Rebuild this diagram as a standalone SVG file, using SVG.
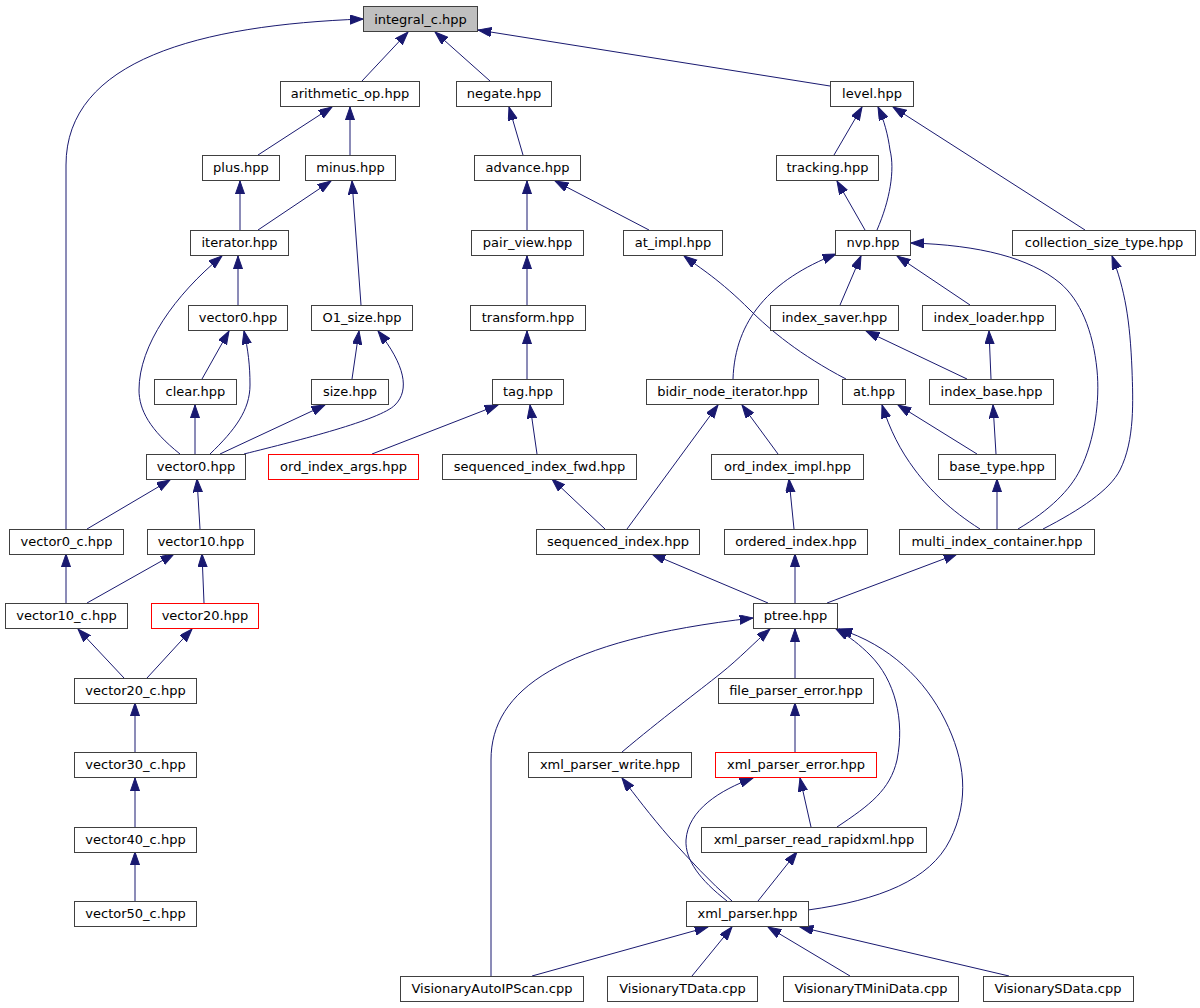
<svg xmlns="http://www.w3.org/2000/svg" width="1200" height="1008" viewBox="0 0 1200 1008">
<style>
.n rect{fill:#ffffff;stroke:#404040;stroke-width:1}
.n.r rect{stroke:#ff0000}
.n.root rect{fill:#bfbfbf}
.n text{font-family:"DejaVu Sans",sans-serif;font-size:13px;fill:#000;text-anchor:middle}
#edges path{fill:none;stroke:#191970;stroke-width:1;marker-end:url(#ah)}
</style>
<defs>
<marker id="ah" markerUnits="userSpaceOnUse" markerWidth="14" markerHeight="10" refX="13.3" refY="4.65" orient="auto" viewBox="0 0 14 10">
<path d="M0,0 L13.3,4.65 L0,9.3 z" fill="#191970" stroke="#191970" stroke-width="1"/>
</marker>
</defs>
<rect width="1200" height="1008" fill="#ffffff"/>
<g id="edges">
<path d="M362,81 L408,32"/>
<path d="M490,81 L435,32"/>
<path d="M830,86 L478,30"/>
<path d="M66,529 L66,165 C66,60 200,25 363,19"/>
<path d="M258,155 L332,107"/>
<path d="M350,155 L350,107"/>
<path d="M240,230 L240,181"/>
<path d="M258,230 L331,181"/>
<path d="M361,305 L352,181"/>
<path d="M238,305 L238,256"/>
<path d="M180,454 C150,430 139,410 139,390 C139,345 175,295 222,256"/>
<path d="M210,454 C235,430 250,410 250,385 C250,365 248,350 244,331"/>
<path d="M202,379 L229,331"/>
<path d="M195,454 L195,405"/>
<path d="M352,379 L359,331"/>
<path d="M244,454 C300,440 380,420 395,405 C410,390 405,365 378,331"/>
<path d="M220,454 L325,405"/>
<path d="M523,155 L509,107"/>
<path d="M527,230 L527,181"/>
<path d="M649,230 L555,181"/>
<path d="M527,305 L527,256"/>
<path d="M527,379 L527,331"/>
<path d="M372,454 L498,405"/>
<path d="M537,454 L530,405"/>
<path d="M605,529 L552,479"/>
<path d="M627,529 L718,405"/>
<path d="M778,454 L742,405"/>
<path d="M794,529 L789,479"/>
<path d="M768,603 L652,554"/>
<path d="M795,603 L795,554"/>
<path d="M827,603 L957,554"/>
<path d="M733,379 C735,320 770,280 836,254"/>
<path d="M840,305 L861,256"/>
<path d="M970,305 L897,256"/>
<path d="M1018,529 C1050,510 1070,490 1080,470 C1095,440 1100,400 1097,370 C1093,330 1080,300 1060,283 C1030,258 980,245 911,243"/>
<path d="M1043,529 C1080,510 1110,490 1120,470 C1135,440 1133,400 1132,370 C1130,320 1125,290 1112,256"/>
<path d="M846,379 C800,355 770,330 750,310 C720,280 700,268 684,256"/>
<path d="M977,454 L898,405"/>
<path d="M980,529 C950,510 930,490 915,470 C900,450 890,430 882,405"/>
<path d="M996,454 L993,405"/>
<path d="M997,529 L997,479"/>
<path d="M967,379 L866,331"/>
<path d="M991,379 L989,331"/>
<path d="M834,155 L862,107"/>
<path d="M865,230 L837,181"/>
<path d="M877,230 C890,200 895,170 890,150 C888,135 884,120 878,107"/>
<path d="M1085,230 L893,107"/>
<path d="M87,529 L170,480"/>
<path d="M200,529 L197,479"/>
<path d="M66,603 L66,554"/>
<path d="M87,603 L174,554"/>
<path d="M204,603 L202,554"/>
<path d="M124,678 L78,629"/>
<path d="M147,678 L192,629"/>
<path d="M135,752 L135,703"/>
<path d="M135,827 L135,778"/>
<path d="M135,901 L135,852"/>
<path d="M795,678 L795,629"/>
<path d="M622,752 C660,720 700,690 720,674 C740,658 755,642 770,629"/>
<path d="M491,976 L491,760 C491,690 560,640 753,618"/>
<path d="M811,827 L800,778"/>
<path d="M837,827 C870,805 890,790 897,760 C905,720 895,680 870,655 C860,645 850,637 836,629"/>
<path d="M808,910 C880,900 930,880 950,840 C970,800 965,760 945,720 C925,680 890,645 839,629"/>
<path d="M795,752 L795,703"/>
<path d="M732,901 C710,882 690,860 670,838 C650,815 635,795 622,778"/>
<path d="M727,901 C700,880 685,860 686,840 C688,810 720,790 753,778"/>
<path d="M758,901 L797,852"/>
<path d="M532,976 L708,927"/>
<path d="M692,976 L732,927"/>
<path d="M850,976 L768,927"/>
<path d="M1009,976 L800,927"/>
</g>
<g id="integral_c" class="n root"><rect x="363.5" y="6.5" width="114" height="25"/><text x="420.5" y="23.5">integral_c.hpp</text></g>
<g id="arithmetic_op" class="n"><rect x="280.5" y="81.5" width="139" height="25"/><text x="350" y="98">arithmetic_op.hpp</text></g>
<g id="negate" class="n"><rect x="456.5" y="81.5" width="95" height="25"/><text x="504" y="98">negate.hpp</text></g>
<g id="level" class="n"><rect x="830.5" y="81.5" width="83" height="25"/><text x="872" y="98">level.hpp</text></g>
<g id="plus" class="n"><rect x="202.5" y="155.5" width="77" height="25"/><text x="241" y="172">plus.hpp</text></g>
<g id="minus" class="n"><rect x="305.5" y="155.5" width="90" height="25"/><text x="350.5" y="172">minus.hpp</text></g>
<g id="advance" class="n"><rect x="474.5" y="155.5" width="106" height="25"/><text x="527.5" y="172">advance.hpp</text></g>
<g id="tracking" class="n"><rect x="776.5" y="155.5" width="102" height="25"/><text x="827.5" y="172">tracking.hpp</text></g>
<g id="iterator" class="n"><rect x="190.5" y="230.5" width="98" height="25"/><text x="239.5" y="247">iterator.hpp</text></g>
<g id="pair_view" class="n"><rect x="471.5" y="230.5" width="112" height="25"/><text x="527.5" y="247">pair_view.hpp</text></g>
<g id="at_impl" class="n"><rect x="623.5" y="230.5" width="99" height="25"/><text x="673" y="247">at_impl.hpp</text></g>
<g id="nvp" class="n"><rect x="835.5" y="230.5" width="75" height="25"/><text x="873" y="247">nvp.hpp</text></g>
<g id="collection_size_type" class="n"><rect x="1012.5" y="230.5" width="183" height="25"/><text x="1104" y="247">collection_size_type.hpp</text></g>
<g id="vector0_a" class="n"><rect x="188.5" y="305.5" width="99" height="25"/><text x="238" y="322">vector0.hpp</text></g>
<g id="O1_size" class="n"><rect x="311.5" y="305.5" width="101" height="25"/><text x="362" y="322">O1_size.hpp</text></g>
<g id="transform" class="n"><rect x="470.5" y="305.5" width="115" height="25"/><text x="528" y="322">transform.hpp</text></g>
<g id="index_saver" class="n"><rect x="770.5" y="305.5" width="128" height="25"/><text x="834.5" y="322">index_saver.hpp</text></g>
<g id="index_loader" class="n"><rect x="922.5" y="305.5" width="133" height="25"/><text x="989" y="322">index_loader.hpp</text></g>
<g id="clear" class="n"><rect x="154.5" y="379.5" width="82" height="25"/><text x="195.5" y="396">clear.hpp</text></g>
<g id="size" class="n"><rect x="311.5" y="379.5" width="77" height="25"/><text x="350" y="396">size.hpp</text></g>
<g id="tag" class="n"><rect x="492.5" y="379.5" width="71" height="25"/><text x="528" y="396">tag.hpp</text></g>
<g id="bidir_node_iterator" class="n"><rect x="646.5" y="379.5" width="172" height="25"/><text x="732.5" y="396">bidir_node_iterator.hpp</text></g>
<g id="at" class="n"><rect x="842.5" y="379.5" width="63" height="25"/><text x="874" y="396">at.hpp</text></g>
<g id="index_base" class="n"><rect x="929.5" y="379.5" width="124" height="25"/><text x="991.5" y="396">index_base.hpp</text></g>
<g id="vector0_b" class="n"><rect x="146.5" y="454.5" width="99" height="25"/><text x="196" y="471">vector0.hpp</text></g>
<g id="ord_index_args" class="n r"><rect x="268.5" y="454.5" width="150" height="25"/><text x="343.5" y="471">ord_index_args.hpp</text></g>
<g id="sequenced_index_fwd" class="n"><rect x="442.5" y="454.5" width="194" height="25"/><text x="539.5" y="471">sequenced_index_fwd.hpp</text></g>
<g id="ord_index_impl" class="n"><rect x="711.5" y="454.5" width="152" height="25"/><text x="787.5" y="471">ord_index_impl.hpp</text></g>
<g id="base_type" class="n"><rect x="938.5" y="454.5" width="117" height="25"/><text x="997" y="471">base_type.hpp</text></g>
<g id="vector0_c" class="n"><rect x="9.5" y="529.5" width="114" height="25"/><text x="66.5" y="546">vector0_c.hpp</text></g>
<g id="vector10" class="n"><rect x="147.5" y="529.5" width="107" height="25"/><text x="201" y="546">vector10.hpp</text></g>
<g id="sequenced_index" class="n"><rect x="536.5" y="529.5" width="163" height="25"/><text x="618" y="546">sequenced_index.hpp</text></g>
<g id="ordered_index" class="n"><rect x="724.5" y="529.5" width="143" height="25"/><text x="796" y="546">ordered_index.hpp</text></g>
<g id="multi_index_container" class="n"><rect x="899.5" y="529.5" width="195" height="25"/><text x="997" y="546">multi_index_container.hpp</text></g>
<g id="vector10_c" class="n"><rect x="5.5" y="603.5" width="122" height="25"/><text x="66.5" y="620">vector10_c.hpp</text></g>
<g id="vector20" class="n r"><rect x="151.5" y="603.5" width="107" height="25"/><text x="205" y="620">vector20.hpp</text></g>
<g id="ptree" class="n"><rect x="753.5" y="603.5" width="84" height="25"/><text x="795.5" y="620">ptree.hpp</text></g>
<g id="vector20_c" class="n"><rect x="74.5" y="678.5" width="122" height="25"/><text x="135.5" y="695">vector20_c.hpp</text></g>
<g id="file_parser_error" class="n"><rect x="718.5" y="678.5" width="155" height="25"/><text x="796" y="695">file_parser_error.hpp</text></g>
<g id="vector30_c" class="n"><rect x="74.5" y="752.5" width="122" height="25"/><text x="135.5" y="769">vector30_c.hpp</text></g>
<g id="xml_parser_write" class="n"><rect x="528.5" y="752.5" width="163" height="25"/><text x="610" y="769">xml_parser_write.hpp</text></g>
<g id="xml_parser_error" class="n r"><rect x="715.5" y="752.5" width="161" height="25"/><text x="796" y="769">xml_parser_error.hpp</text></g>
<g id="vector40_c" class="n"><rect x="74.5" y="827.5" width="122" height="25"/><text x="135.5" y="844">vector40_c.hpp</text></g>
<g id="xml_parser_read_rapidxml" class="n"><rect x="701.5" y="827.5" width="225" height="25"/><text x="814" y="844">xml_parser_read_rapidxml.hpp</text></g>
<g id="vector50_c" class="n"><rect x="74.5" y="901.5" width="122" height="25"/><text x="135.5" y="918">vector50_c.hpp</text></g>
<g id="xml_parser" class="n"><rect x="686.5" y="901.5" width="122" height="25"/><text x="747.5" y="918">xml_parser.hpp</text></g>
<g id="VisionaryAutoIPScan" class="n"><rect x="400.5" y="976.5" width="183" height="25"/><text x="492" y="993">VisionaryAutoIPScan.cpp</text></g>
<g id="VisionaryTData" class="n"><rect x="607.5" y="976.5" width="150" height="25"/><text x="682.5" y="993">VisionaryTData.cpp</text></g>
<g id="VisionaryTMiniData" class="n"><rect x="783.5" y="976.5" width="175" height="25"/><text x="871" y="993">VisionaryTMiniData.cpp</text></g>
<g id="VisionarySData" class="n"><rect x="983.5" y="976.5" width="150" height="25"/><text x="1058" y="993">VisionarySData.cpp</text></g>
</svg>
